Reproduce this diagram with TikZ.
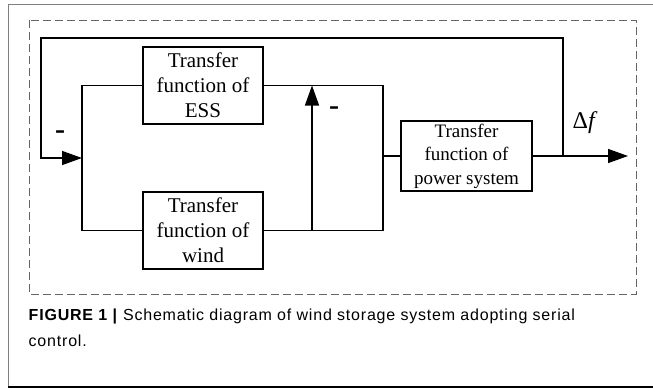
\documentclass[tikz,border=0pt]{standalone}
\usepackage{fontspec}
\setmainfont{Liberation Serif}
\setsansfont{Liberation Sans}
\newfontfamily\capfont[LetterSpace=5]{Liberation Sans}
\newfontfamily\signfont{DejaVu Sans}
\usetikzlibrary{positioning,calc,arrows.meta}

\tikzset{
  tf/.style={draw, line width=1.2pt, inner sep=0pt, align=center,
             font=\fontsize{21}{25}\selectfont},
  arr/.style={-{Triangle[length=20pt,width=14pt]}},
  minus/.style={inner sep=0pt, font=\signfont\bfseries\fontsize{20}{20}\selectfont}
}

\begin{document}
\begin{tikzpicture}[x=1pt, y=-1pt, line width=1.4pt]
        \useasboundingbox (0,0) rectangle (653,388);
        % frame and dashed region
        \draw[gray, line width=1pt] (653,4) -- (8,4) -- (8,387);
        \draw[line width=1.6pt] (8,387) -- (653,387);
        \draw[gray!80!black, line width=1pt, dash pattern=on 8pt off 4pt] (29,20) rectangle (636,294);
        % blocks
        \node[tf, minimum width=120pt, minimum height=77pt] (ess) at (203,85.5) {Transfer\\function of\\ESS};
        \node[tf, minimum width=120pt, minimum height=77pt] (wind) at (203,230.5) {Transfer\\function of\\wind};
        \node[tf, minimum width=131pt, minimum height=70pt, font=\fontsize{19}{23.5}\selectfont] (power) at (466.5,156) {Transfer\\function of\\power system};
        \coordinate (busL) at (82,158);
        \coordinate (busR) at (383,156);
        \coordinate (jn) at (312,230.5);
        \coordinate (tap) at (563,156);
        \coordinate (fbtop) at (41,38);
        \coordinate (out) at (628,156);
        % connections
        \draw (ess.west) -| (busL |- wind.west) -- (wind.west);
        \draw (ess.east) -| (busR |- wind.east) -- (wind.east);
        \draw[arr] (jn) -- (jn |- ess.east);
        \draw (busR) -- (power.west);
        \draw[arr] (power.east) -- (out);
        \draw[arr] (tap) |- (fbtop) |- (busL);
        % signs and labels
        \node[minus] (m1) at (60,134) {–};
        \node[minus] (m2) at (334,110) {–};
        \node[anchor=base west, inner sep=0pt, font=\fontsize{24}{24}\selectfont] (df) at (572,128) {Δ\textit{f}};
        \node[anchor=base west, inner sep=0pt, align=left, font=\capfont\fontsize{16}{26}\selectfont] (cap) at (28,346)
          {\textbf{FIGURE 1 |} Schematic diagram of wind storage system adopting serial\\control.};
    \end{tikzpicture}
\end{document}
